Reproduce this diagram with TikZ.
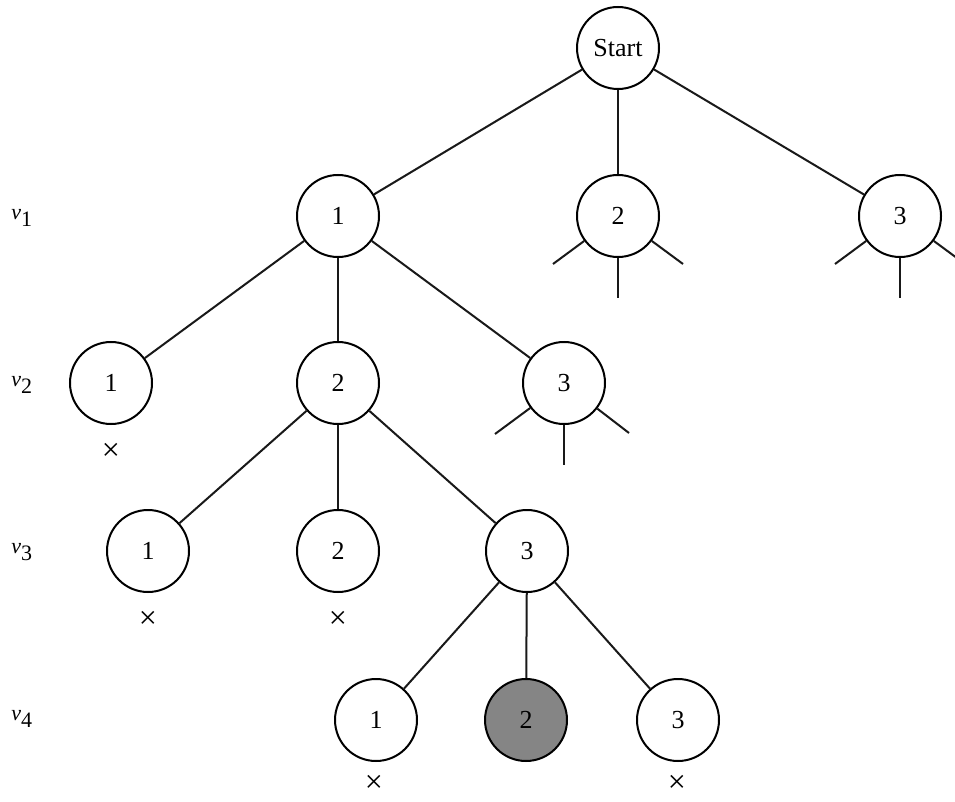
\documentclass[tikz,border=0pt]{standalone}
\usepackage{fontspec}
\setmainfont{Liberation Serif}
\begin{document}
\begin{tikzpicture}[x=1pt,y=-1pt,
  st/.style={circle,draw=black,line width=2pt,minimum size=82pt,inner sep=0pt,fill=white,
    font=\fontsize{26}{30}\selectfont},
  goal/.style={st,fill=black!48},
  edge/.style={line width=2pt,draw=black!90},
  lvl/.style={font=\fontsize{22}{26}\selectfont,inner sep=0pt},
  xmark/.style={font=\fontsize{32}{34}\selectfont,inner sep=0pt}]
\useasboundingbox (0,0) rectangle (955,802);
\clip (0,0) rectangle (955,802);
% levels labels
\node[lvl] (l1) at (22,218) {$\textit{v}_{\textrm{1}}$};
\node[lvl] (l2) at (22,385) {$\textit{v}_{\textrm{2}}$};
\node[lvl] (l3) at (22,552) {$\textit{v}_{\textrm{3}}$};
\node[lvl] (l4) at (22,719) {$\textit{v}_{\textrm{4}}$};
% nodes
\node[st] (s) at (618,48) {Start};
\node[st] (a1) at (338,216) {1};
\node[st] (a2) at (618,216) {2};
\node[st] (a3) at (900,216) {3};
\node[st] (b1) at (111,383) {1};
\node[st] (b2) at (338,383) {2};
\node[st] (b3) at (564,383) {3};
\node[st] (c1) at (148,551) {1};
\node[st] (c2) at (338,551) {2};
\node[st] (c3) at (527,551) {3};
\node[st] (d1) at (376,720) {1};
\node[goal] (d2) at (526,720) {2};
\node[st] (d3) at (678,720) {3};
% crosses
\node[xmark] (xb1) at (111,452) {×};
\node[xmark] (xc1) at (148,620) {×};
\node[xmark] (xc2) at (338,620) {×};
\node[xmark] (xd1) at (374,784) {×};
\node[xmark] (xd3) at (677,784) {×};
% edges
\draw[edge] (s) -- (a1);
\draw[edge] (s) -- (a2);
\draw[edge] (s) -- (a3);
\draw[edge] (a1) -- (b1);
\draw[edge] (a1) -- (b2);
\draw[edge] (a1) -- (b3);
\draw[edge] (b2) -- (c1);
\draw[edge] (b2) -- (c2);
\draw[edge] (b2) -- (c3);
\draw[edge] (c3) -- (d1);
\draw[edge] (c3) -- (d2);
\draw[edge] (c3) -- (d3);
% stubs
\coordinate (a2l) at (553,264);
\coordinate (a2d) at (618,298);
\coordinate (a2r) at (683,264);
\coordinate (a3l) at (835,264);
\coordinate (a3d) at (900,298);
\coordinate (a3r) at (965,264);
\coordinate (b3l) at (495,434);
\coordinate (b3d) at (564,465);
\coordinate (b3r) at (629,433);
\draw[edge] (a2) -- (a2l);
\draw[edge] (a2) -- (a2d);
\draw[edge] (a2) -- (a2r);
\draw[edge] (a3) -- (a3l);
\draw[edge] (a3) -- (a3d);
\draw[edge] (a3) -- (a3r);
\draw[edge] (b3) -- (b3l);
\draw[edge] (b3) -- (b3d);
\draw[edge] (b3) -- (b3r);
\end{tikzpicture}
\end{document}
